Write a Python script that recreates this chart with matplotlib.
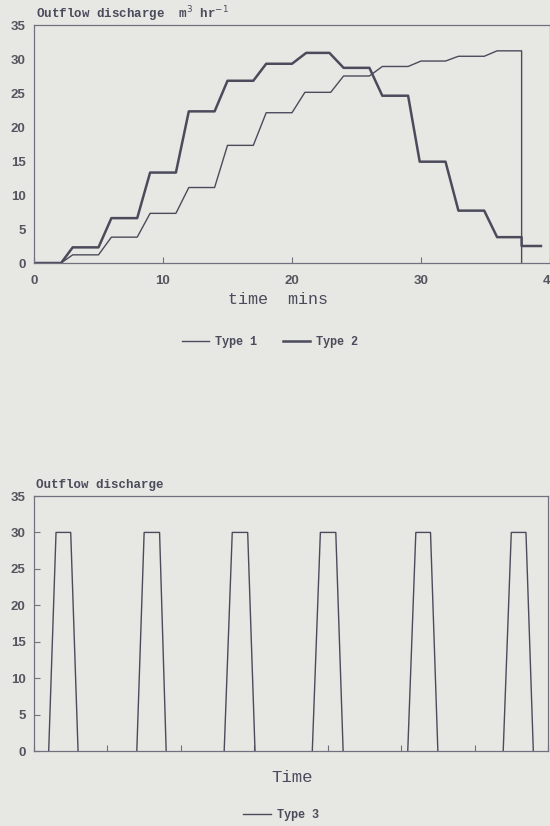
import numpy as np
import matplotlib
matplotlib.use('Agg')
from matplotlib import pyplot as plt
from matplotlib.lines import Line2D

# Type 1 (thin) and Type 2 (thick) outflow
t1_time = [0, 2.1, 3.0, 5.0, 6.0, 8.0, 9.0, 11.0, 12.0, 14.0, 15.0, 17.0, 18.0, 20.0, 21.0,
           23.0, 24.0, 26.0, 27.0, 29.0, 30.0, 31.9, 32.9, 34.9, 35.9, 37.8, 37.8]
t1_flow = [0, 0, 1.2, 1.2, 3.8, 3.8, 7.3, 7.3, 11.1, 11.1, 17.3, 17.3, 22.1, 22.1, 25.1,
           25.1, 27.5, 27.5, 28.9, 28.9, 29.7, 29.7, 30.4, 30.4, 31.2, 31.2, 0]

t2_time = [0, 2.1, 3.0, 5.0, 6.0, 8.0, 9.0, 11.0, 12.0, 14.0, 15.0, 17.0, 18.0, 20.0, 21.1,
           22.9, 24.0, 26.0, 27.0, 29.0, 29.9, 31.9, 32.9, 34.9, 35.9, 37.8, 37.8, 39.3]
t2_flow = [0, 0, 2.3, 2.3, 6.6, 6.6, 13.3, 13.3, 22.3, 22.3, 26.8, 26.8, 29.3, 29.3, 30.9,
           30.9, 28.7, 28.7, 24.6, 24.6, 14.9, 14.9, 7.7, 7.7, 3.8, 3.8, 2.5, 2.5]

# Type 3 pulses: rise start, top start, top end, fall end
pulse_rise = [2.0, 14.0, 25.9, 37.9, 50.9, 63.9]
pulse_top = [3.0, 15.0, 27.0, 39.0, 52.0, 65.0]
pulse_end_top = [5.0, 17.1, 29.1, 41.1, 54.0, 67.0]
pulse_fall = [6.0, 18.0, 30.1, 42.1, 55.0, 68.0]
pulse_peak = 30

bg = '#e7e7e3'
ink = '#4b4b5c'
frame = '#70707e'
mono = ['Liberation Mono', 'DejaVu Sans Mono']
sans = ['Liberation Sans', 'DejaVu Sans']

fig = plt.figure(figsize=(5.5, 8.26), dpi=100, facecolor=bg)

def style_axes(ax):
    ax.set_facecolor(bg)
    for s in ax.spines.values():
        s.set_color(frame)
        s.set_linewidth(0.9)
    ax.tick_params(direction='in', length=4, width=0.8, color=frame,
                   labelcolor='#55555f', labelsize=9.5, pad=6)
    for lab in ax.get_xticklabels() + ax.get_yticklabels():
        lab.set_fontfamily(sans)
        lab.set_fontweight('bold')

# ---- top chart ----
ax1 = fig.add_axes([34/550, 1-263/826, 516/550, 238/826])
ax1.plot(t1_time, t1_flow, color=ink, lw=1.0)
ax1.plot(t2_time, t2_flow, color=ink, lw=1.8)
ax1.set_xlim(0, 40)
ax1.set_ylim(0, 35)
ax1.set_xticks([0, 10, 20, 30, 40])
ax1.set_yticks(range(0, 36, 5))
style_axes(ax1)
ax1.tick_params(axis='y', length=0)
ax1.tick_params(axis='x', pad=9)

fig.text(36/550, 1-14/826, 'Outflow discharge  m$^3$ hr$^{-1}$', family=mono,
         weight='bold', fontsize=9, color=ink, va='center')
fig.text(278/550, 1-300/826, 'time  mins', family=mono, fontsize=12,
         color=ink, ha='center', va='center')

handles = [Line2D([], [], color=ink, lw=1.0), Line2D([], [], color=ink, lw=1.8)]
leg = fig.legend(handles, ['Type 1', 'Type 2'], loc='center',
                 bbox_to_anchor=(270/550, 1-342/826), ncol=2, frameon=False,
                 handlelength=2.3, handletextpad=0.5, columnspacing=2.2,
                 prop={'family': mono, 'weight': 'bold', 'size': 8.5})
for txt in leg.get_texts():
    txt.set_color(ink)

# ---- bottom chart ----
ax2 = fig.add_axes([34/550, 1-751/826, 514/550, 255/826])
for a, b, c, d in zip(pulse_rise, pulse_top, pulse_end_top, pulse_fall):
    ax2.plot([a, b, c, d], [0, pulse_peak, pulse_peak, 0], color=ink, lw=1.0)
ax2.set_xlim(0, 70)
ax2.set_ylim(0, 35)
ax2.set_xticks(range(0, 71, 10))
ax2.set_xticklabels([])
ax2.set_yticks(range(0, 36, 5))
style_axes(ax2)

fig.text(36/550, 1-485/826, 'Outflow discharge', family=mono,
         weight='bold', fontsize=9, color=ink, va='center')
fig.text(292/550, 1-777/826, 'Time', family=mono, fontsize=12.5,
         color=ink, ha='center', va='center')

leg2 = fig.legend([Line2D([], [], color=ink, lw=1.0)], ['Type 3'], loc='center',
                  bbox_to_anchor=(281/550, 1-815/826), frameon=False,
                  handlelength=2.3, handletextpad=0.5,
                  prop={'family': mono, 'weight': 'bold', 'size': 8.5})
for txt in leg2.get_texts():
    txt.set_color(ink)

fig.savefig('out.png', dpi=100, facecolor=bg)
